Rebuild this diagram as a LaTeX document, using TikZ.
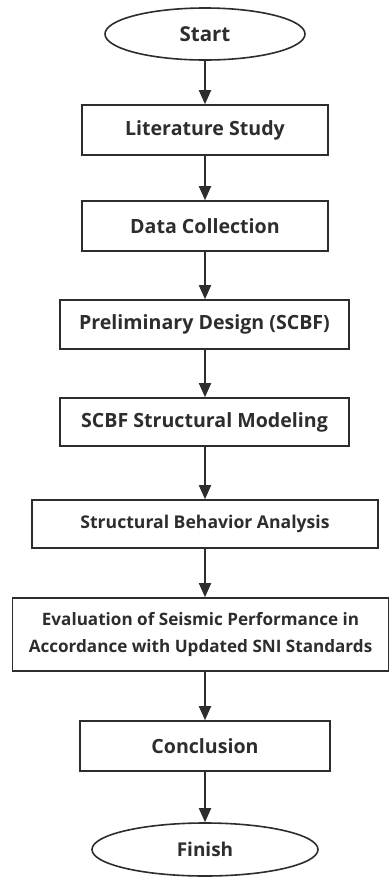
\documentclass[tikz,border=0pt]{standalone}
\usepackage{fontspec}
\setmainfont{Open Sans}
\usepackage{tikz}
\usetikzlibrary{arrows.meta, positioning, shapes.geometric}
\usepackage{xcolor}
\definecolor{inkgray}{RGB}{45,45,45}
\tikzset{%
	every stepbox/.style={
		rectangle,
		draw=inkgray,
		line width=1.6pt,
		text=inkgray,
		font=\fontsize{19.6}{24}\selectfont\bfseries,
		align=center,
		inner sep=0pt
	},
	terminal/.style={
		ellipse,
		draw=inkgray,
		line width=1.6pt,
		text=inkgray,
		font=\fontsize{20.5}{24}\selectfont\bfseries,
		inner sep=0pt
	},
	flow/.style={
		draw=inkgray,
		line width=1.8pt,
		-{Triangle[width=12pt,length=14pt]}
	},
}

\begin{document}
\begin{tikzpicture}[x=1pt, y=-1pt]
			% Fix the page size to the reference
			\useasboundingbox (0,0) rectangle (390,879);
			
			% Draw the start and finish terminals
			\node[terminal, minimum width=200pt, minimum height=52pt] (start) at (205,34) {Start};
			\node[terminal, minimum width=226pt, minimum height=53pt, font=\fontsize{19}{24}\selectfont\bfseries] (finish) at (205,849.5) {Finish};
			
			% Draw the process boxes
			\node[every stepbox, minimum width=246pt, minimum height=50pt] (study) at (205,130) {Literature Study};
			\node[every stepbox, minimum width=246pt, minimum height=50pt] (data) at (205,226) {Data Collection};
			\node[every stepbox, minimum width=289pt, minimum height=49pt] (prelim) at (204.5,324.5) {Preliminary Design (SCBF)};
			\node[every stepbox, minimum width=289pt, minimum height=48pt] (model) at (204.5,422) {SCBF Structural Modeling};
			\node[every stepbox, minimum width=346pt, minimum height=48pt, font=\fontsize{17.6}{22}\selectfont\bfseries] (behavior) at (205,524) {Structural Behavior Analysis};
			\node[every stepbox, minimum width=376pt, minimum height=73pt, font=\fontsize{17.1}{27}\selectfont\bfseries] (evaluation) at (200.5,634.5) {Evaluation of Seismic Performance in\\Accordance with Updated SNI Standards};
			\node[every stepbox, minimum width=250pt, minimum height=50pt] (conclusion) at (205,746) {Conclusion};
			
			% Connect the steps from top to bottom
			\foreach \from/\to in {start/study, study/data, data/prelim, prelim/model, model/behavior, behavior/evaluation, evaluation/conclusion, conclusion/finish} {
				\draw[flow] (\from.south -| start.south) -- (\to.north -| start.south);
			}
			
		\end{tikzpicture}
\end{document}
